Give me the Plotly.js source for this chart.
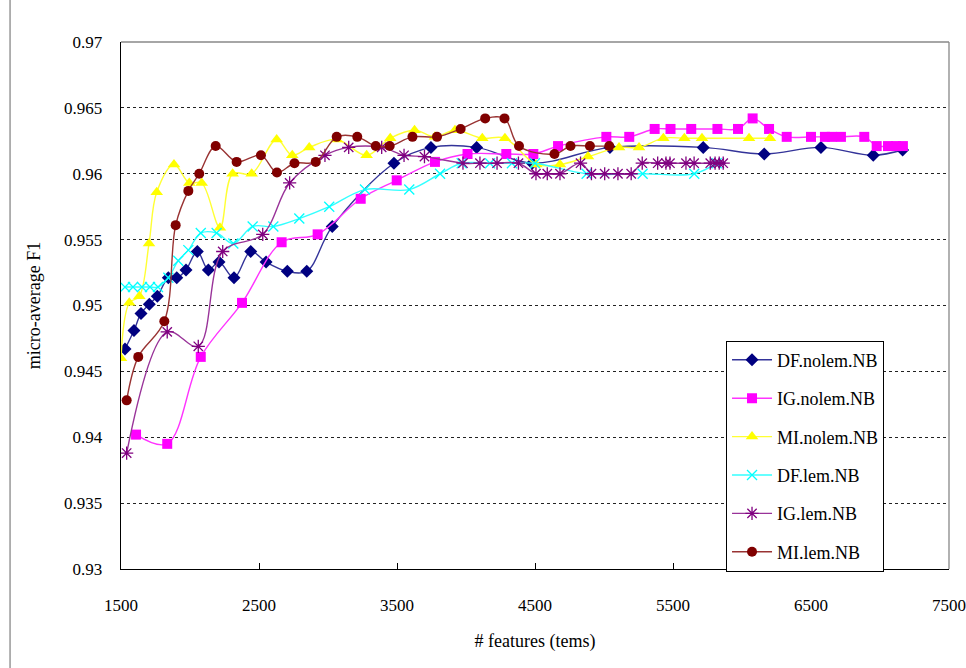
<!DOCTYPE html>
<html>
<head>
<meta charset="utf-8">
<script src="https://cdn.plot.ly/plotly-3.0.1.min.js"></script>
<style>html,body{margin:0;padding:0;background:#fff;}#chart{width:966px;height:668px;}</style>
</head>
<body>
<div id="chart"></div>
<script>
// ---- data ----
const dfNolemX = [1529,1594,1645,1705,1763,1843,1904,1971,2053,2133,2210,2319,2440,2551,2705,2846,3031,3478,3746,4077,4480,5043,5719,6161,6572,6951,7164];
const dfNolemY = [0.9467,0.9481,0.9494,0.9501,0.9507,0.9521,0.9521,0.9527,0.9541,0.9527,0.9533,0.9521,0.9541,0.9533,0.9526,0.9526,0.9560,0.9608,0.9620,0.9620,0.9608,0.9620,0.9620,0.9615,0.9620,0.9614,0.9618];

const igNolemX = [1609,1835,2078,2377,2664,2925,3237,3498,3775,4011,4292,4488,4667,5017,5183,5367,5482,5632,5822,5971,6077,6196,6324,6500,6601,6650,6717,6886,6976,7058,7116,7166];
const igNolemY = [0.9402,0.9395,0.9461,0.9502,0.9548,0.9554,0.9581,0.9595,0.9609,0.9615,0.9615,0.9615,0.9621,0.9628,0.9628,0.9634,0.9634,0.9634,0.9634,0.9634,0.9642,0.9634,0.9628,0.9628,0.9628,0.9628,0.9628,0.9628,0.9621,0.9621,0.9621,0.9621];

const miNolemX = [1500,1560,1633,1703,1759,1884,1995,2085,2217,2309,2447,2628,2741,2864,3063,3280,3451,3627,3775,3920,4118,4282,4509,4681,4884,5109,5254,5430,5582,5710,6051,6203];
const miNolemY = [0.9460,0.9502,0.9507,0.9547,0.9586,0.9607,0.9593,0.9593,0.9559,0.9600,0.9600,0.9626,0.9614,0.9620,0.9626,0.9614,0.9627,0.9633,0.9628,0.9633,0.9627,0.9627,0.9607,0.9607,0.9613,0.9620,0.9620,0.9627,0.9627,0.9627,0.9627,0.9627];

const dfLemX = [1529,1587,1652,1710,1768,1843,1915,1988,2078,2193,2314,2454,2604,2792,3009,3268,3589,3812,3969,4174,4333,4500,4874,5280,5654,5816];
const dfLemY = [0.9514,0.9514,0.9514,0.9514,0.9514,0.9521,0.9534,0.9542,0.9555,0.9555,0.9547,0.9560,0.9560,0.9566,0.9575,0.9588,0.9588,0.9600,0.9608,0.9608,0.9608,0.9608,0.9600,0.9600,0.9600,0.9608];

const igLemX = [1541,1835,2060,2237,2527,2722,2978,3150,3389,3551,3699,3978,4101,4225,4380,4507,4589,4681,4830,4909,5005,5101,5197,5277,5389,5449,5478,5594,5653,5770,5805,5835,5864];
const igLemY = [0.9388,0.9480,0.9469,0.9541,0.9554,0.9593,0.9614,0.9620,0.9620,0.9614,0.9613,0.9608,0.9608,0.9608,0.9608,0.9600,0.9600,0.9600,0.9608,0.9600,0.9600,0.9600,0.9600,0.9608,0.9608,0.9608,0.9608,0.9608,0.9608,0.9608,0.9608,0.9608,0.9608];

const miLemX = [1541,1625,1814,1896,1988,2067,2186,2338,2514,2630,2757,2911,3063,3212,3346,3447,3612,3790,3961,4139,4279,4384,4641,4757,4898,5038];
const miLemY = [0.9428,0.9461,0.9488,0.9561,0.9587,0.9600,0.9621,0.9609,0.9614,0.9601,0.9608,0.9609,0.9628,0.9628,0.9621,0.9621,0.9628,0.9628,0.9634,0.9642,0.9642,0.9621,0.9615,0.9621,0.9621,0.9621];

const seriesNames = ['DF.nolem.NB','IG.nolem.NB','MI.nolem.NB','DF.lem.NB','IG.lem.NB','MI.lem.NB'];
const xTickVals = [1500,2500,3500,4500,5500,6500,7500];
const yTickVals = [0.93,0.935,0.94,0.945,0.95,0.955,0.96,0.965,0.97];

// ---- styling ----
const FONT = 'serif';
function tr(x, y, name, i, lineColor, mColor, symbol, size, mline) {
  return {
    x: x, y: y, name: name, type: 'scatter', mode: 'lines+markers',
    legendgroup: 'g' + i,
    line: {color: lineColor, width: 1.4, shape: 'spline', smoothing: 1},
    marker: {symbol: symbol, size: size, color: mColor, line: mline || {width: 0}},
    cliponaxis: true
  };
}
const data = [
  tr(dfNolemX, dfNolemY, seriesNames[0], 0, '#333399', '#000080', 'diamond', 10),
  tr(igNolemX, igNolemY, seriesNames[1], 1, '#FF33FF', '#FF00FF', 'square', 10),
  tr(miNolemX, miNolemY, seriesNames[2], 2, '#FFFF33', '#FFFF00', 'triangle-up', 11),
  tr(dfLemX, dfLemY, seriesNames[3], 3, '#33FFFF', '#00FFFF', 'x-thin-open', 10, {color: '#00FFFF', width: 1.3}),
  tr(igLemX, igLemY, seriesNames[4], 4, '#993399', '#800080', 'asterisk-open', 11, {color: '#800080', width: 1.3}),
  tr(miLemX, miLemY, seriesNames[5], 5, '#993333', '#800000', 'circle', 10)
];

const layout = {
  width: 966, height: 668,
  margin: {l: 121, r: 17, t: 42, b: 99},
  paper_bgcolor: '#fff', plot_bgcolor: '#fff',
  font: {family: FONT, size: 16, color: '#000'},
  showlegend: true,
  legend: {
    x: 0.7307, y: 0.4334, xanchor: 'left', yanchor: 'top',
    bordercolor: '#000', borderwidth: 1, bgcolor: '#fff',
    font: {family: FONT, size: 18, color: '#000'},
    tracegroupgap: 12, traceorder: 'grouped', itemwidth: 40
  },
  xaxis: {
    range: [1500, 7500], tickmode: 'array', tickvals: xTickVals,
    ticks: 'inside', ticklen: 6, tickcolor: '#000',
    showline: true, linecolor: '#000', linewidth: 1.3,
    showgrid: false, zeroline: false,
    ticklabelstandoff: 20,
    tickfont: {family: FONT, size: 17},
    title: {text: '# features (tems)', font: {family: FONT, size: 18}, standoff: 20}
  },
  yaxis: {
    range: [0.93, 0.97], tickmode: 'array', tickvals: yTickVals,
    ticks: '', showline: true, linecolor: '#000', linewidth: 1.3,
    showgrid: true, gridcolor: '#222', gridwidth: 1, griddash: '3px,3px',
    zeroline: false, ticklabelstandoff: 14,
    tickfont: {family: FONT, size: 17},
    title: {text: 'micro-average F1', font: {family: FONT, size: 18}, standoff: 18}
  },
  shapes: [
    {type: 'line', xref: 'paper', yref: 'paper', x0: 0, x1: 1, y0: 1, y1: 1, line: {color: '#888', width: 1.3}, layer: 'below'},
    {type: 'line', xref: 'paper', yref: 'paper', x0: 1, x1: 1, y0: 0, y1: 1, line: {color: '#888', width: 1.3}, layer: 'below'},
    {type: 'line', xref: 'paper', yref: 'paper', x0: -0.134, x1: -0.134, y0: -0.19, y1: 1.08, line: {color: '#888', width: 1.3}}
  ]
};

Plotly.newPlot('chart', data, layout, {displayModeBar: false, staticPlot: true});
</script>
</body>
</html>
